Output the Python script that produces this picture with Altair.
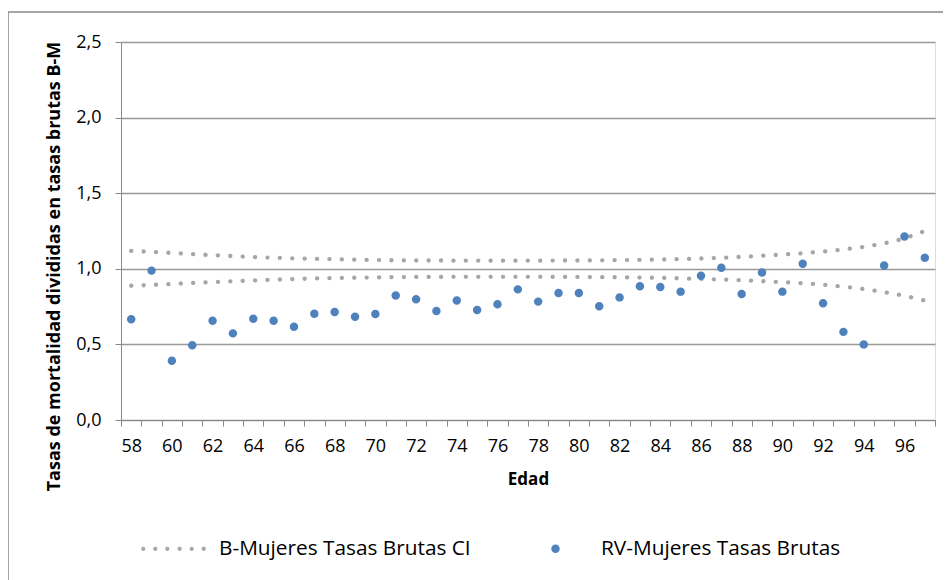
import altair as alt
import pandas as pd

# ---- data ----
edad = list(range(58, 98))

rv_mujeres = [0.666, 0.988, 0.392, 0.494, 0.657, 0.573, 0.670, 0.657, 0.617, 0.703,
              0.714, 0.683, 0.701, 0.824, 0.798, 0.721, 0.791, 0.728, 0.765, 0.864,
              0.783, 0.840, 0.840, 0.752, 0.811, 0.884, 0.879, 0.849, 0.954, 1.007,
              0.833, 0.976, 0.849, 1.033, 0.772, 0.583, 0.500, 1.022, 1.213, 1.073]

ci_superior = [1.118, 1.112, 1.105, 1.098, 1.090, 1.084, 1.078, 1.073, 1.069, 1.066,
               1.063, 1.060, 1.058, 1.056, 1.055, 1.055, 1.054, 1.054, 1.054, 1.054,
               1.054, 1.055, 1.055, 1.056, 1.057, 1.059, 1.061, 1.064, 1.068, 1.073,
               1.079, 1.086, 1.094, 1.103, 1.114, 1.128, 1.145, 1.168, 1.200, 1.250]

ci_inferior = [0.888, 0.893, 0.900, 0.906, 0.912, 0.918, 0.923, 0.928, 0.932, 0.936,
               0.939, 0.941, 0.943, 0.945, 0.946, 0.946, 0.947, 0.947, 0.947, 0.947,
               0.947, 0.946, 0.946, 0.945, 0.944, 0.942, 0.940, 0.937, 0.933, 0.929,
               0.924, 0.918, 0.912, 0.905, 0.895, 0.882, 0.866, 0.846, 0.822, 0.790]

serie_ci = "B-Mujeres Tasas Brutas CI"
serie_rv = "RV-Mujeres Tasas Brutas"
y_ticks = [0, 0.5, 1.0, 1.5, 2.0, 2.5]

GREY = "#A6A6A6"
BLUE = "#4F81BD"
FONT = "Open Sans"

# ---- tables ----
df_ci = pd.DataFrame({
    "Edad": edad * 2,
    "valor": ci_superior + ci_inferior,
    "limite": ["sup"] * len(edad) + ["inf"] * len(edad),
})
df_rv = pd.DataFrame({"Edad": edad, "valor": rv_mujeres, "serie": serie_rv})


def circ(cx, r):
    return (f"M{cx - r},0 A{r},{r} 0 1,0 {cx + r},0 "
            f"A{r},{r} 0 1,0 {cx - r},0 Z ")


ci_path = "".join(circ(c, 0.065) for c in [-0.93, -0.56, -0.19, 0.19, 0.56, 0.93])
rv_path = circ(0.0, 0.13)

W, H = 814, 378

x_enc = alt.X(
    "Edad:O",
    scale=alt.Scale(paddingInner=0, paddingOuter=0),
    axis=alt.Axis(
        title="Edad",
        labelExpr="datum.value % 2 == 0 ? datum.label : ''",
        labelAngle=0,
        tickBand="extent",
        tickSize=6,
        tickColor="#888888",
        domainColor="#888888",
        labelFont=FONT,
        labelFontSize=18,
        labelColor="#000000",
        labelPadding=11,
        titleFont=FONT,
        titleFontSize=17,
        titleFontWeight="bold",
        titleColor="#000000",
        titlePadding=16,
        grid=False,
    ),
)

y_enc = alt.Y(
    "valor:Q",
    scale=alt.Scale(domain=[0, 2.5], nice=False, zero=True),
    axis=alt.Axis(
        title="Tasas de mortalidad divididas en tasas brutas B-M",
        values=y_ticks,
        format=".1f",
        labelExpr="replace(datum.label, '.', ',')",
        grid=True,
        gridColor="#999999",
        gridWidth=1.3,
        tickSize=6,
        tickColor="#888888",
        domainColor="#888888",
        labelFont=FONT,
        labelFontSize=18,
        labelColor="#000000",
        labelPadding=14,
        titleFont=FONT,
        titleFontSize=18,
        titleFontWeight="bold",
        titleColor="#000000",
        titleX=-67,
        titleY=224,
        titleAlign="center",
        titleBaseline="middle",
    ),
)

legend_props = dict(
    title=None,
    orient="none",
    legendX=20,
    legendY=474,
    direction="horizontal",
    symbolSize=4225,
    symbolStrokeWidth=0,
    labelFont=FONT,
    labelFontSize=20.8,
    labelColor="#000000",
    labelOffset=13,
    labelLimit=0,
    columnPadding=52,
)

frame = alt.Chart(alt.Data(values=[{}])).mark_rect(
    fill="transparent", stroke="#888888", strokeWidth=1.5
).encode(
    x=alt.value(-113), x2=alt.value(1200),
    y=alt.value(-30), y2=alt.value(900),
)

lines = alt.Chart(df_ci).mark_line(
    color=GREY, strokeWidth=4.3, strokeDash=[0.1, 12.3], strokeCap="round"
).encode(
    x=x_enc,
    y=y_enc,
    detail="limite:N",
)

points = alt.Chart(df_rv).mark_point(
    filled=True, size=4225, opacity=1, strokeWidth=0
).encode(
    x=x_enc,
    y=y_enc,
    color=alt.Color("serie:N",
                    scale=alt.Scale(domain=[serie_ci, serie_rv], range=[GREY, BLUE]),
                    legend=alt.Legend(**legend_props)),
    shape=alt.Shape("serie:N",
                    scale=alt.Scale(domain=[serie_ci, serie_rv], range=[ci_path, rv_path]),
                    legend=alt.Legend(**legend_props)),
)

chart = alt.layer(frame, lines, points).properties(
    width=W,
    height=H,
    autosize=alt.AutoSizeParams(type="none"),
    padding={"left": 113, "top": 34, "right": 8, "bottom": 160},
).configure_view(stroke=None).configure(background="white")

chart.save("out.html", embed_options={"renderer": "svg", "actions": False})
